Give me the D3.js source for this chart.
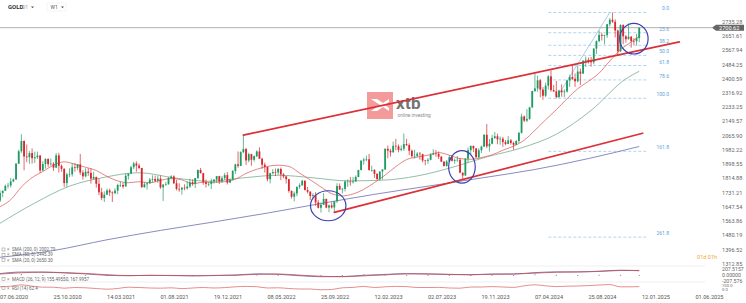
<!DOCTYPE html>
<html><head><meta charset="utf-8">
<script src="https://cdn.jsdelivr.net/npm/d3@7"></script>
<style>body{margin:0;background:#fff}svg{display:block;font-family:Roboto,"DejaVu Sans",sans-serif}</style>
</head><body><svg id="c" width="746" height="303"></svg>
<script>
// ---------- DATA ----------
const firstWeek = "2020-06-07";           // weekly candles, one per week
const open = [1685,1730,1743,1771,1774,1798,1810,1902,1975,2035,1944,1940,1964,1934,1940,1950,1862,1900,1930,1899,1902,1879,1951,1889,1872,1788,1839,1840,1881,1877,
1898,1850,1828,1855,1848,1814,1824,1784,1734,1700,1720,1745,1733,1729,1744,1777,1777,1768,1831,1843,1881,1903,1891,1877,1764,1781,1787,1808,1812,1801,1814,1763,1779,1781,1818,1827,1787,1754,1750,1761,1757,1768,1793,1783,1818,1865,1846,1793,1783,1783,1798,1808,
1829,1797,1817,1835,1791,1808,1859,1898,1889,1970,1988,1921,1958,1925,1946,1974,1931,1896,1883,1811,1846,1853,1850,1871,1839,1827,1811,1742,1708,1727,1766,1775,1802,1747,1737,1712,1717,1675,1643,1661,1695,1644,1657,1645,1681,1771,1751,1754,1797,1797,1793,1798,
1824,1865,1920,1926,1928,1865,1865,1842,1811,1856,1868,1989,1978,1969,2007,2004,1983,1990,2017,2011,1978,1946,1948,1961,1958,1921,1919,1925,1955,1962,1959,1943,1914,1889,1915,1940,1919,1924,1925,1849,1833,1932,1981,2006,1992,1940,1981,2002,2072,2004,2019,2053,2063,
2045,2049,2029,2018,2039,2024,2013,2035,2083,2179,2155,2165,2233,2329,2344,2392,2337,2301,2360,2415,2334,2327,2294,2332,2322,2326,2391,2411,2401,2386,2443,2431,2507,2512,2503,2497,2578,2622,2658,2653,2657,2721,2747,2736,2684,2562,2716,2650,2633,2648,2622,2621,2640];
const high = [1745,1745,1779,1789,1818,1815,1906,1984,2075,2039,2015,1976,1992,1973,1973,1953,1917,1933,1933,1932,1911,1965,1966,1898,1875,1848,1875,1906,1906,1900,
1959,1863,1875,1875,1875,1855,1826,1815,1760,1740,1755,1755,1740,1758,1785,1797,1790,1845,1845,1890,1913,1916,1903,1877,1795,1790,1818,1834,1832,1832,1832,1782,1795,1823,1834,1834,1808,1787,1765,1781,1800,1814,1810,1818,1868,1877,1849,1808,1793,1814,1812,1830,
1831,1830,1848,1853,1814,1865,1902,1974,1975,2070,1995,1966,1960,1950,1980,1998,1937,1909,1884,1849,1870,1874,1876,1879,1847,1830,1813,1745,1739,1767,1787,1807,1804,1765,1741,1729,1735,1688,1675,1729,1697,1662,1675,1683,1787,1786,1760,1804,1810,1824,1824,1833,
1866,1922,1937,1949,1959,1890,1870,1847,1858,1870,1993,2009,1989,2032,2048,2015,2009,2079,2048,2022,1985,1983,1970,1971,1960,1925,1935,1964,1987,1982,1974,1948,1917,1924,1953,1953,1932,1947,1936,1850,1933,1997,2009,2009,1993,1993,2008,2075,2135,2047,2071,2088,2078,
2062,2060,2041,2065,2047,2031,2041,2088,2195,2185,2222,2236,2330,2431,2418,2400,2352,2378,2422,2450,2364,2388,2336,2368,2339,2392,2424,2483,2432,2477,2461,2509,2531,2525,2529,2580,2626,2685,2671,2660,2722,2758,2790,2750,2690,2721,2721,2657,2726,2652,2639,2665,2701];
const low = [1677,1705,1742,1757,1762,1793,1806,1900,1965,1863,1911,1901,1902,1906,1930,1848,1860,1873,1882,1890,1860,1876,1850,1855,1764,1764,1823,1826,1855,1864,
1835,1808,1822,1831,1785,1809,1761,1717,1687,1677,1718,1712,1677,1722,1723,1765,1756,1768,1809,1843,1870,1855,1870,1761,1761,1750,1783,1791,1794,1790,1754,1683,1772,1779,1809,1782,1745,1737,1721,1746,1750,1759,1772,1759,1812,1845,1778,1762,1770,1753,1785,1789,
1782,1790,1805,1780,1788,1806,1842,1878,1887,1964,1895,1910,1890,1915,1941,1931,1872,1850,1798,1786,1839,1829,1837,1805,1817,1785,1732,1697,1681,1711,1754,1773,1745,1727,1688,1691,1654,1639,1615,1660,1640,1617,1638,1616,1672,1747,1727,1739,1766,1773,1785,1795,
1822,1862,1896,1916,1861,1855,1819,1809,1804,1809,1865,1934,1944,1966,1981,1969,1975,1977,2006,1952,1937,1932,1940,1925,1910,1893,1902,1922,1952,1942,1929,1912,1885,1884,1912,1915,1901,1913,1846,1810,1830,1908,1953,1970,1935,1931,1965,2001,1993,1973,2016,2047,2016,
2013,2001,2010,2016,2014,1984,2011,2024,2079,2146,2146,2160,2228,2323,2324,2292,2277,2292,2338,2325,2323,2287,2287,2295,2293,2319,2353,2393,2353,2380,2364,2430,2470,2490,2472,2485,2546,2615,2625,2603,2641,2708,2729,2643,2536,2558,2605,2613,2632,2583,2600,2596,2615];
const close = [1730,1743,1771,1774,1798,1810,1902,1975,2035,1944,1940,1964,1934,1940,1950,1862,1900,1930,1899,1902,1879,1951,1889,1872,1788,1839,1840,1881,1877,1898,
1850,1828,1855,1848,1814,1824,1784,1734,1700,1720,1745,1733,1729,1744,1777,1777,1768,1831,1843,1881,1903,1891,1877,1764,1781,1787,1808,1812,1801,1814,1763,1779,1781,1818,1827,1787,1754,1750,1761,1757,1768,1793,1783,1818,1865,1846,1793,1783,1783,1798,1808,1829,
1797,1817,1835,1791,1808,1859,1898,1889,1970,1988,1921,1958,1925,1946,1974,1931,1896,1883,1811,1846,1853,1850,1871,1839,1827,1811,1742,1708,1727,1766,1775,1802,1747,1737,1712,1717,1675,1643,1661,1695,1644,1657,1645,1681,1771,1751,1754,1797,1797,1793,1798,1824,
1865,1920,1926,1928,1865,1865,1842,1811,1856,1868,1989,1978,1969,2007,2004,1983,1990,2017,2011,1978,1946,1948,1961,1958,1921,1919,1925,1955,1962,1959,1943,1914,1889,1915,1940,1919,1924,1925,1849,1833,1932,1981,2006,1992,1940,1981,2002,2072,2004,2019,2053,2063,2045,
2049,2029,2018,2039,2024,2013,2035,2083,2179,2155,2165,2233,2329,2344,2392,2337,2301,2360,2415,2334,2327,2294,2332,2322,2326,2391,2411,2401,2386,2443,2431,2507,2512,2503,2497,2578,2622,2658,2653,2657,2721,2747,2736,2684,2562,2716,2650,2633,2648,2622,2621,2640,2700.62];

// moving averages, read at week indexes
const sma20Idx = [0,4,8,12,16,20,24,28,32,36,40,44,48,52,56,60,64,68,72,76,80,84,88,92,96,100,104,108,112,116,120,124,128,132,136,140,144,148,152,156,160,164,168,172,176,180,184,188,192,196,200,204,208,212,216,220,224,228,232,236,239];
const sma20 = [1650,1690,1765,1820,1856,1893,1913,1899,1881,1862,1827,1801,1790,1796,1790,1804,1815,1807,1784,1793,1793,1796,1811,1845,1869,1886,1893,1886,1847,1807,1765,1726,1713,1724,1751,1791,1835,1885,1926,1941,1952,1967,1952,1932,1928,1938,1954,1981,2005,2040,2098,2160,2219,2283,2342,2386,2434,2505,2571,2617,2650];
const sma50Idx = [0,13,26,39,52,65,78,91,104,117,130,143,156,169,182,195,208,221,234,239];
const sma50 = [1552,1671,1770,1822,1849,1819,1799,1819,1834,1819,1801,1805,1830,1880,1942,1995,2075,2215,2400,2445];
const sma200Idx = [0,20,40,60,80,100,120,140,160,180,200,220,239];
const sma200 = [1352,1392,1455,1510,1560,1612,1668,1722,1770,1818,1868,1932,2003];
const macdIdx = [0,8,16,24,32,40,48,56,64,72,80,88,96,104,112,120,128,136,144,152,160,168,176,184,192,200,208,216,224,232,239];
const macd   = [55,110,105,80,45,-5,-20,-5,-15,-25,-10,5,45,30,-20,-55,-50,-5,25,55,40,20,15,40,40,90,115,115,140,175,155];
const signal = [40,85,108,90,60,15,-15,-10,-10,-20,-15,-5,30,40,0,-40,-55,-25,10,45,45,30,15,30,40,70,105,115,130,165,168];
const rsiIdx = [0,4,8,12,16,20,24,28,32,36,40,44,48,52,56,60,64,68,72,76,80,84,88,92,96,100,104,108,112,116,120,124,128,132,136,140,144,148,152,156,160,164,168,172,176,180,184,188,192,196,200,204,208,212,216,220,224,228,232,236,239];
const rsi = [62,68,82,68,58,58,48,55,52,45,38,45,58,55,50,48,52,44,50,55,50,54,62,66,63,50,52,45,40,40,32,35,52,56,66,55,62,66,64,55,55,56,50,48,60,60,64,60,56,72,82,72,64,68,70,74,80,84,62,62,64];

const priceTicks = ["1312.85","1396.52","1480.19","1563.86","1647.54","1731.21","1814.88","1898.55","1982.22","2065.90","2149.57","2233.25","2316.92","2400.59","2484.25","2567.94","2651.61","2735.28"];
const dateTicks = ["2020-06-07","2020-10-25","2021-03-14","2021-08-01","2021-12-19","2022-05-08","2022-09-25","2023-02-12","2023-07-02","2023-11-19","2024-04-07","2024-08-25","2025-01-12","2025-06-01"];
const lastPrice = 2700.62;
const fibHigh = 2790, fibLow = 2286;
const fibLevels = [0, 23.6, 38.2, 50.0, 61.8, 78.6, 100.0, 161.8, 261.8];
const fibStart = "2024-05-12", fibEnd = "2025-01-26";
const fibDiag = [["2024-06-02", 2286], ["2024-10-20", 2790]];
const upperChannel = [["2022-03-06", 2070], ["2025-04-20", 2617]];
const lowerChannel = [["2022-10-30", 1616], ["2025-01-14", 2081]];
const circles = [["2022-10-14", 1655], ["2023-09-29", 1883], ["2024-12-22", 2636]];
const legends = ["SMA (200, 0) 2002.79","SMA (50, 0) 2445.39","SMA (20, 0) 2650.30"];
const macdLegend = "MACD (26, 12, 9) 155.49550, 167.9957";
const rsiLegend = "RSI (14) 62.4";
const macdTicks = ["207.5157","0.00000","-207.576"];
const rsiTicks = ["100.0","0.0"];

// ---------- DRAW ----------
const svg = d3.select("#c");
const P = d3.timeParse("%Y-%m-%d");
const w0 = P(firstWeek);
const wDate = i => d3.timeDay.offset(w0, 7 * i);
const x = d3.scaleTime().domain([P("2020-06-07"), P("2025-06-01")]).range([0, 695.4]);
const y = d3.scaleLinear().domain([1312.85, 2735.28]).range([264, 21.8]);
const GREEN = "#1e9b62", RED = "#d9262c";

// header
svg.append("text").attr("x", 8).attr("y", 9).attr("font-size", 6).attr("font-weight", "bold").attr("fill", "#333").text("GOLD");
svg.append("text").attr("x", 22).attr("y", 9).attr("font-size", 5).attr("fill", "#999").text("D1");
svg.append("path").attr("d", "M31,6.5 h3 l-1.5,1.8z").attr("fill", "#555");
svg.append("rect").attr("x", 47).attr("y", 3).attr("width", 19).attr("height", 8).attr("fill", "none").attr("stroke", "#eee").attr("stroke-width", 0.6);
svg.append("text").attr("x", 50.5).attr("y", 9).attr("font-size", 5).attr("fill", "#555").text("W1");
svg.append("path").attr("d", "M61,6.5 h3 l-1.5,1.8z").attr("fill", "#555");

// watermark logo
const lg = svg.append("g").attr("opacity", 0.75);
lg.append("rect").attr("x", 367).attr("y", 92).attr("width", 26).attr("height", 27).attr("fill", "#f07a7a");
lg.append("path").attr("d", "M371,99 L380,105 L371,111 L377,111 L383,107 L389,111 L389,108 L385,105 L389,102 L389,99 L383,103 L377,99 Z").attr("fill", "#fff");
lg.append("text").attr("x", 396).attr("y", 109).attr("font-size", 17).attr("font-weight", "bold").attr("fill", "#444").attr("letter-spacing", "0.3").text("xtb");
lg.append("text").attr("x", 397.5).attr("y", 117).attr("font-size", 4.8).attr("fill", "#666").text("online investing");

// fib levels
const fibPrice = r => fibHigh - r / 100 * (fibHigh - fibLow);
const fg = svg.append("g");
fibLevels.forEach(r => {
  const yy = y(fibPrice(r));
  fg.append("line").attr("x1", x(P(fibStart))).attr("x2", x(P(fibEnd))).attr("y1", yy).attr("y2", yy)
    .attr("stroke", "#8cc3ea").attr("stroke-width", 0.7).attr("stroke-dasharray", "3,2");
  fg.append("text").attr("x", 669).attr("y", yy - 2).attr("text-anchor", "end").attr("font-size", 5).attr("fill", "#5aa3dc").text(r.toFixed(1));
});
fg.append("line").attr("x1", x(P(fibDiag[0][0]))).attr("y1", y(fibDiag[0][1])).attr("x2", x(P(fibDiag[1][0]))).attr("y2", y(fibDiag[1][1]))
  .attr("stroke", "#7fb8e6").attr("stroke-width", 0.7);

// moving averages
const lineIdx = (idx, vals) => d3.line().x((d, i) => x(wDate(idx[i]))).y(d => y(d)).curve(d3.curveMonotoneX)(vals);
svg.append("path").attr("d", lineIdx(sma200Idx, sma200)).attr("fill", "none").attr("stroke", "#7b7fb8").attr("stroke-width", 0.9);
svg.append("path").attr("d", lineIdx(sma50Idx, sma50)).attr("fill", "none").attr("stroke", "#86b79c").attr("stroke-width", 0.9);
svg.append("path").attr("d", lineIdx(sma20Idx, sma20)).attr("fill", "none").attr("stroke", "#e06464").attr("stroke-width", 0.8);

// current price line
svg.append("line").attr("x1", 0).attr("x2", 712).attr("y1", y(lastPrice)).attr("y2", y(lastPrice)).attr("stroke", "#999").attr("stroke-width", 0.8);

// candles
const cg = svg.append("g");
close.forEach((c, i) => {
  const cx = x(wDate(i)), o = open[i], col = c >= o ? GREEN : RED;
  cg.append("line").attr("x1", cx).attr("x2", cx).attr("y1", y(high[i])).attr("y2", y(low[i])).attr("stroke", col).attr("stroke-width", 0.7);
  const top = y(Math.max(o, c)), bot = y(Math.min(o, c));
  cg.append("rect").attr("x", cx - 0.9).attr("width", 1.8).attr("y", top).attr("height", Math.max(0.6, bot - top)).attr("fill", col);
});

// channel lines
[upperChannel, lowerChannel].forEach(l => {
  svg.append("line").attr("x1", x(P(l[0][0]))).attr("y1", y(l[0][1])).attr("x2", x(P(l[1][0]))).attr("y2", y(l[1][1]))
    .attr("stroke", "#dc2f36").attr("stroke-width", 1.7).attr("stroke-linecap", "round");
});

// circles
const rad = [[17.7, 15], [13.3, 16.2], [14.2, 15.3]];
circles.forEach((c, i) => {
  svg.append("ellipse").attr("cx", x(P(c[0]))).attr("cy", y(c[1])).attr("rx", rad[i][0]).attr("ry", rad[i][1])
    .attr("fill", "none").attr("stroke", "#3c3fb0").attr("stroke-width", 1.2);
});

// price axis
priceTicks.forEach(t => {
  svg.append("text").attr("x", 722).attr("y", y(+t)).attr("dy", "0.35em").attr("font-size", 5.6).attr("fill", "#666").text(t);
});
// last price label
const ly = y(lastPrice);
svg.append("path").attr("d", `M712,${ly} L716,${ly - 3} H744 V${ly + 3} H716 Z`).attr("fill", "#666");
svg.append("text").attr("x", 719).attr("y", ly).attr("dy", "0.35em").attr("font-size", 5.6).attr("fill", "#fff").text(lastPrice.toFixed(2));

svg.append("text").attr("x", 697).attr("y", 259).attr("font-size", 5.6).attr("fill", "#f2a531").text("01d 01h");

// legends
legends.forEach((t, i) => {
  const yy = 251 + i * 5.3;
  svg.append("rect").attr("x", 2).attr("y", yy - 3).attr("width", 3).attr("height", 3).attr("fill", "none").attr("stroke", "#888").attr("stroke-width", 0.5);
  svg.append("text").attr("x", 7).attr("y", yy).attr("font-size", 4.5).attr("fill", "#888").text("×");
  svg.append("text").attr("x", 12).attr("y", yy).attr("font-size", 4.5).attr("fill", "#666").text(t);
});

// MACD panel
const ym = d3.scaleLinear().domain([-207.576, 207.5157]).range([281, 269.3]);
svg.append("line").attr("x1", 0).attr("x2", 705).attr("y1", 266).attr("y2", 266).attr("stroke", "#ddd").attr("stroke-width", 0.5);
macdIdx.forEach((d, i) => {
  if (i === 0) return;
  const h = macd[i] - signal[i];
  svg.append("rect").attr("x", x(wDate(d)) - 0.6).attr("width", 1.2).attr("y", Math.min(ym(0), ym(h))).attr("height", Math.max(0.6, Math.abs(ym(h) - ym(0))))
    .attr("fill", h >= 0 ? "#3a3f8f" : "#c0392b");
});
svg.append("path").attr("d", d3.line().x((d, i) => x(wDate(macdIdx[i]))).y(d => ym(d)).curve(d3.curveMonotoneX)(macd)).attr("fill", "none").attr("stroke", "#5a5aa8").attr("stroke-width", 0.8);
svg.append("path").attr("d", d3.line().x((d, i) => x(wDate(macdIdx[i]))).y(d => ym(d)).curve(d3.curveMonotoneX)(signal)).attr("fill", "none").attr("stroke", "#c85050").attr("stroke-width", 0.8);
macdTicks.forEach(t => svg.append("text").attr("x", 722).attr("y", ym(+t)).attr("dy", "0.35em").attr("font-size", 5.2).attr("fill", "#666").text(t));
svg.append("rect").attr("x", 2).attr("y", 277.5).attr("width", 3).attr("height", 3).attr("fill", "none").attr("stroke", "#888").attr("stroke-width", 0.5);
svg.append("text").attr("x", 7).attr("y", 280.5).attr("font-size", 4.5).attr("fill", "#888").text("×");
svg.append("text").attr("x", 12).attr("y", 280.5).attr("font-size", 4.5).attr("fill", "#666").text(macdLegend);

// RSI panel
const yr = d3.scaleLinear().domain([0, 100]).range([293, 283]);
svg.append("line").attr("x1", 0).attr("x2", 705).attr("y1", 282).attr("y2", 282).attr("stroke", "#ddd").attr("stroke-width", 0.5);
svg.append("path").attr("d", d3.line().x((d, i) => x(wDate(rsiIdx[i]))).y(d => yr(d)).curve(d3.curveMonotoneX)(rsi)).attr("fill", "none").attr("stroke", "#e07070").attr("stroke-width", 0.8);
svg.append("text").attr("x", 722).attr("y", 285.3).attr("dy", "0.35em").attr("font-size", 4.2).attr("fill", "#666").text(rsiTicks[0]);
svg.append("text").attr("x", 722).attr("y", 289.8).attr("dy", "0.35em").attr("font-size", 4.2).attr("fill", "#666").text(rsiTicks[1]);
svg.append("rect").attr("x", 2).attr("y", 286.5).attr("width", 3).attr("height", 3).attr("fill", "none").attr("stroke", "#888").attr("stroke-width", 0.5);
svg.append("text").attr("x", 7).attr("y", 289.5).attr("font-size", 4.5).attr("fill", "#888").text("×");
svg.append("text").attr("x", 12).attr("y", 289.5).attr("font-size", 4.5).attr("fill", "#666").text(rsiLegend);

// date axis
const fmt = d3.timeFormat("%d.%m.%Y");
dateTicks.forEach(t => {
  svg.append("text").attr("x", x(P(t))).attr("y", 299).attr("font-size", 5.6).attr("fill", "#555").text(fmt(P(t)));
});
</script></body></html>
